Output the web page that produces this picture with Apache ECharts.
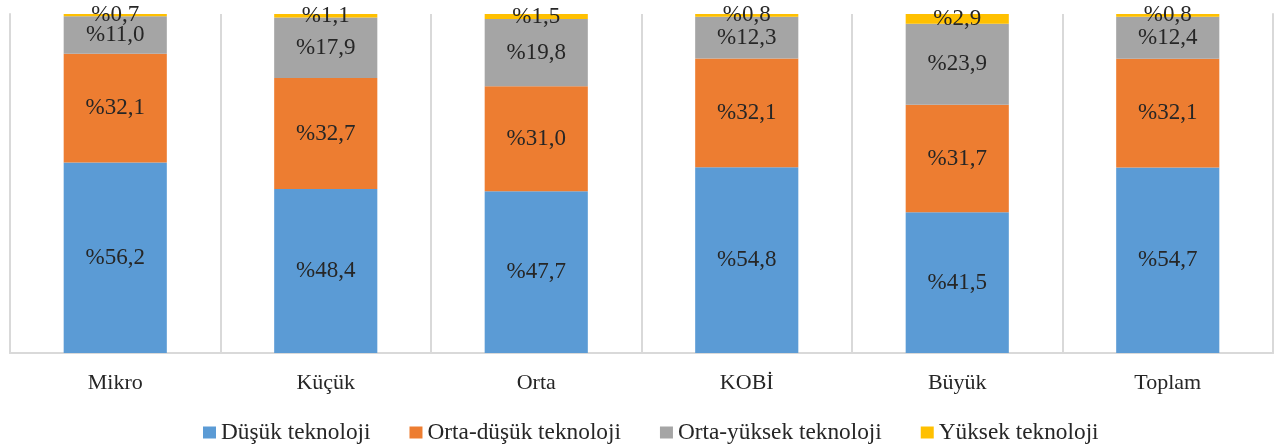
<!DOCTYPE html>
<html><head><meta charset="utf-8">
<script src="https://cdn.jsdelivr.net/npm/echarts@6/dist/echarts.min.js"></script>
<style>html,body{margin:0;padding:0;background:#fff}#c{width:1274px;height:446px}</style>
</head><body><div id="c"></div>
<script>
const categories = ['Mikro','Küçük','Orta','KOBİ','Büyük','Toplam'];
const dusuk = [56.2, 48.4, 47.7, 54.8, 41.5, 54.7];
const ortaDusuk = [32.1, 32.7, 31.0, 32.1, 31.7, 32.1];
const ortaYuksek = [11.0, 17.9, 19.8, 12.3, 23.9, 12.4];
const yuksek = [0.7, 1.1, 1.5, 0.8, 2.9, 0.8];
const seriesNames = ['Düşük teknoloji','Orta-düşük teknoloji','Orta-yüksek teknoloji','Yüksek teknoloji'];
const colors = ['#5B9BD5','#ED7D31','#A5A5A5','#FFC000'];
const font = '"Liberation Serif", "DejaVu Serif", serif';
const fmt = p => '%' + p.value.toFixed(1).replace('.', ',');
const chart = echarts.init(document.getElementById('c'));
const mk = (name, data, i) => ({
  name, type: 'bar', stack: 'total', data, barWidth: '49%',
  itemStyle: { color: colors[i] },
  label: { show: true, position: 'inside', formatter: fmt, color: '#262626', fontFamily: font, fontSize: 23 }
});
chart.setOption({
  animation: false,
  grid: { left: 10, right: 1, top: 14, bottom: 93 },
  legend: {
    top: 421, left: 203, padding: 0, icon: 'rect', itemWidth: 13, itemHeight: 12, itemGap: 39,
    textStyle: { fontFamily: font, fontSize: 23.3, color: '#262626' },
    data: seriesNames
  },
  xAxis: {
    type: 'category', data: categories,
    axisLine: { show: true, lineStyle: { color: '#D9D9D9', width: 2 } },
    axisTick: { show: false },
    splitLine: { show: true, lineStyle: { color: '#D9D9D9', width: 2 } },
    axisLabel: { fontFamily: font, fontSize: 22, color: '#262626', margin: 19 }
  },
  yAxis: [
    { type: 'value', min: 0, max: 100, show: true, axisLabel: { show: false }, splitLine: { show: false },
      axisLine: { show: true, lineStyle: { color: '#D9D9D9', width: 2 } }, axisTick: { show: false } },
    { type: 'value', min: 0, max: 100, position: 'right', axisLabel: { show: false }, splitLine: { show: false },
      axisLine: { show: true, lineStyle: { color: '#D9D9D9', width: 2 } }, axisTick: { show: false } }
  ],
  series: [
    mk(seriesNames[0], dusuk, 0),
    mk(seriesNames[1], ortaDusuk, 1),
    mk(seriesNames[2], ortaYuksek, 2),
    mk(seriesNames[3], yuksek, 3)
  ]
});
</script></body></html>
